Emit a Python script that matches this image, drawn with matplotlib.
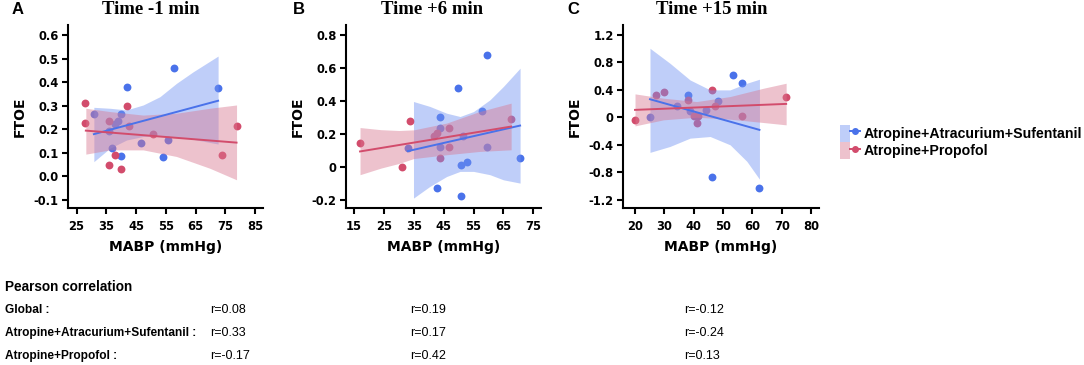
import numpy as np
import matplotlib
matplotlib.use("Agg")
import matplotlib.pyplot as plt
from matplotlib.patches import Patch
from matplotlib.lines import Line2D
from matplotlib.legend_handler import HandlerTuple

plt.rcParams['font.family'] = ['DejaVu Sans']

# colours
BLUE = '#4a72ea'
RED = '#d24c6c'
BLUE_BAND = '#7394f2'
RED_BAND = '#d97891'

group_names = ['Atropine+Atracurium+Sufentanil', 'Atropine+Propofol']
panel_letters = ['A', 'B', 'C']
panel_titles = ['Time -1 min', 'Time +6 min', 'Time +15 min']

# ---- panel A (Time -1 min) ----
a_blue_x = [30.8, 36.0, 37.9, 38.9, 39.9, 41.8, 36.8, 39.9, 46.7, 53.9, 55.8, 57.8, 72.6]
a_blue_y = [0.265, 0.194, 0.222, 0.234, 0.265, 0.38, 0.122, 0.084, 0.14, 0.081, 0.152, 0.459, 0.374]
a_red_x = [27.8, 27.8, 36.0, 41.8, 42.7, 37.9, 36.0, 39.9, 50.8, 73.8, 78.8]
a_red_y = [0.31, 0.225, 0.236, 0.30, 0.214, 0.091, 0.048, 0.03, 0.18, 0.091, 0.214]
a_blue_fit_x = [30.8, 72.6]
a_blue_fit_y = [0.179, 0.321]
a_red_fit_x = [28.1, 78.8]
a_red_fit_y = [0.194, 0.143]
a_blue_ci_x = [30.8, 36.2, 41.8, 47.4, 53.0, 58.6, 64.2, 72.6]
a_blue_ci_hi = [0.293, 0.289, 0.282, 0.303, 0.338, 0.395, 0.444, 0.511]
a_blue_ci_lo = [0.062, 0.119, 0.154, 0.169, 0.171, 0.166, 0.157, 0.137]
a_red_ci_x = [28.1, 36.2, 47.4, 58.6, 69.8, 78.8]
a_red_ci_hi = [0.289, 0.275, 0.26, 0.268, 0.289, 0.303]
a_red_ci_lo = [0.094, 0.112, 0.112, 0.084, 0.034, -0.015]

# ---- panel B (Time +6 min) ----
b_blue_x = [32.9, 43.8, 43.8, 43.8, 49.9, 50.7, 52.7, 42.7, 50.7, 57.7, 59.4, 59.6, 70.6, 51.6]
b_blue_y = [0.115, 0.30, 0.234, 0.123, 0.477, 0.008, 0.028, -0.129, -0.18, 0.341, 0.68, 0.119, 0.053, 0.184]
b_red_x = [17.0, 31.0, 33.8, 41.9, 42.7, 46.8, 46.8, 43.8, 67.6]
b_red_y = [0.143, 0.0, 0.275, 0.184, 0.204, 0.238, 0.123, 0.053, 0.289]
b_blue_fit_x = [33.0, 70.6]
b_blue_fit_y = [0.095, 0.25]
b_red_fit_x = [17.0, 67.6]
b_red_fit_y = [0.093, 0.244]
b_blue_ci_x = [34.9, 40.4, 46.0, 50.5, 55.0, 60.5, 65.0, 70.6]
b_blue_ci_hi = [0.396, 0.366, 0.325, 0.305, 0.335, 0.406, 0.487, 0.598]
b_blue_ci_lo = [-0.19, -0.119, -0.059, -0.028, -0.028, -0.048, -0.079, -0.099]
b_red_ci_x = [17.0, 24.0, 30.0, 35.0, 46.0, 57.0, 67.6]
b_red_ci_hi = [0.238, 0.225, 0.22, 0.224, 0.265, 0.335, 0.386]
b_red_ci_lo = [-0.048, -0.008, 0.02, 0.05, 0.073, 0.093, 0.103]

# ---- panel C (Time +15 min) ----
c_blue_x = [25.1, 34.2, 38.1, 38.75, 44.2, 46.1, 48.2, 53.3, 56.4, 62.4]
c_blue_y = [0.012, 0.167, 0.327, 0.094, 0.1, -0.87, 0.245, 0.618, 0.497, -1.03]
c_red_x = [20.0, 27.0, 30.0, 38.1, 40.1, 41.4, 41.25, 46.1, 47.3, 56.4, 71.5]
c_red_y = [-0.036, 0.327, 0.376, 0.255, 0.022, 0.022, -0.085, 0.4, 0.167, 0.027, 0.293]
c_blue_fit_x = [25.1, 62.4]
c_blue_fit_y = [0.264, -0.182]
c_red_fit_x = [20.0, 71.5]
c_red_fit_y = [0.109, 0.196]
c_blue_ci_x = [25.1, 31.9, 38.75, 45.6, 52.4, 58.1, 62.4]
c_blue_ci_hi = [1.006, 0.788, 0.545, 0.40, 0.40, 0.497, 0.555]
c_blue_ci_lo = [-0.51, -0.424, -0.303, -0.279, -0.40, -0.64, -0.90]
c_red_ci_x = [20.0, 29.7, 41.0, 52.4, 63.75, 71.5]
c_red_ci_hi = [0.342, 0.279, 0.23, 0.303, 0.424, 0.497]
c_red_ci_lo = [-0.124, -0.036, 0.002, -0.027, -0.075, -0.109]

# axis ticks
a_xticks = [25, 35, 45, 55, 65, 75, 85]
a_yticks = [-0.1, 0.0, 0.1, 0.2, 0.3, 0.4, 0.5, 0.6]
a_ylabels = ['-0.1', '0.0', '0.1', '0.2', '0.3', '0.4', '0.5', '0.6']
b_xticks = [15, 25, 35, 45, 55, 65, 75]
b_yticks = [-0.2, 0.0, 0.2, 0.4, 0.6, 0.8]
b_ylabels = ['-0.2', '0', '0.2', '0.4', '0.6', '0.8']
c_xticks = [20, 30, 40, 50, 60, 70, 80]
c_yticks = [-1.2, -0.8, -0.4, 0.0, 0.4, 0.8, 1.2]
c_ylabels = ['-1.2', '-0.8', '-0.4', '0', '0.4', '0.8', '1.2']

# pearson table
row_labels = ['Global :', 'Atropine+Atracurium+Sufentanil :', 'Atropine+Propofol :']
r_values = [['r=0.08', 'r=0.19', 'r=-0.12'],
            ['r=0.33', 'r=0.17', 'r=-0.24'],
            ['r=-0.17', 'r=0.42', 'r=0.13']]

panels = [
    dict(bx=a_blue_x, by=a_blue_y, rx=a_red_x, ry=a_red_y,
         bfx=a_blue_fit_x, bfy=a_blue_fit_y, rfx=a_red_fit_x, rfy=a_red_fit_y,
         bcx=a_blue_ci_x, bch=a_blue_ci_hi, bcl=a_blue_ci_lo,
         rcx=a_red_ci_x, rch=a_red_ci_hi, rcl=a_red_ci_lo,
         xt=a_xticks, yt=a_yticks, yl=a_ylabels, xlim=(22, 87.7), ylim=(-0.135, 0.643)),
    dict(bx=b_blue_x, by=b_blue_y, rx=b_red_x, ry=b_red_y,
         bfx=b_blue_fit_x, bfy=b_blue_fit_y, rfx=b_red_fit_x, rfy=b_red_fit_y,
         bcx=b_blue_ci_x, bch=b_blue_ci_hi, bcl=b_blue_ci_lo,
         rcx=b_red_ci_x, rch=b_red_ci_hi, rcl=b_red_ci_lo,
         xt=b_xticks, yt=b_yticks, yl=b_ylabels, xlim=(12.2, 77.5), ylim=(-0.25, 0.86)),
    dict(bx=c_blue_x, by=c_blue_y, rx=c_red_x, ry=c_red_y,
         bfx=c_blue_fit_x, bfy=c_blue_fit_y, rfx=c_red_fit_x, rfy=c_red_fit_y,
         bcx=c_blue_ci_x, bch=c_blue_ci_hi, bcl=c_blue_ci_lo,
         rcx=c_red_ci_x, rch=c_red_ci_hi, rcl=c_red_ci_lo,
         xt=c_xticks, yt=c_yticks, yl=c_ylabels, xlim=(15.8, 82.8), ylim=(-1.32, 1.345)),
]

W, H = 1084, 365
fig = plt.figure(figsize=(W / 100, H / 100), dpi=100)

# axes boxes in pixels: left, right, top, bottom
boxes = [(67.7, 263, 25, 208), (345.7, 540.7, 25, 208), (622.7, 819.3, 25, 208)]
title_cx = [151, 432, 712]
letter_x = [12, 293, 567]

for i, p in enumerate(panels):
    l, r, t, b = boxes[i]
    ax = fig.add_axes([l / W, (H - b) / H, (r - l) / W, (b - t) / H])
    ax.scatter(p['bx'], p['by'], s=32, color=BLUE, zorder=1, linewidths=0)
    ax.scatter(p['rx'], p['ry'], s=32, color=RED, zorder=1, linewidths=0)
    ax.fill_between(p['bcx'], p['bcl'], p['bch'], color=BLUE_BAND, alpha=0.45, lw=0, zorder=2)
    ax.fill_between(p['rcx'], p['rcl'], p['rch'], color=RED_BAND, alpha=0.45, lw=0, zorder=2)
    ax.plot(p['bfx'], p['bfy'], color=BLUE, lw=1.4, zorder=3)
    ax.plot(p['rfx'], p['rfy'], color=RED, lw=1.4, zorder=3)
    ax.set_xlim(*p['xlim'])
    ax.set_ylim(*p['ylim'])
    ax.set_xticks(p['xt'])
    ax.set_yticks(p['yt'])
    ax.set_yticklabels(p['yl'])
    for s in ['top', 'right']:
        ax.spines[s].set_visible(False)
    for s in ['left', 'bottom']:
        ax.spines[s].set_linewidth(1.5)
    ax.tick_params(width=1.5, length=4, labelsize=8.3)
    ax.tick_params(axis='x', pad=4.5)
    ax.tick_params(axis='y', pad=2.5)
    for lab in ax.get_xticklabels() + ax.get_yticklabels():
        lab.set_fontweight('bold')
    ax.set_xlabel('MABP (mmHg)', fontsize=10, fontweight='bold', labelpad=5)
    ax.set_ylabel('FTOE', fontsize=10, fontweight='bold', labelpad=5)
    fig.text(title_cx[i] / W, 1 - 10 / H, panel_titles[i], ha='center', va='center',
             fontsize=13.5, fontweight='bold', family='Liberation Serif')
    fig.text(letter_x[i] / W, 1 - 10 / H, panel_letters[i], ha='left', va='center',
             fontsize=12, fontweight='bold', family='Liberation Sans')

# legend
handles = [
    (Patch(facecolor=BLUE_BAND, alpha=0.45, lw=0), Line2D([], [], color=BLUE, marker='o', ms=4, lw=1.4)),
    (Patch(facecolor=RED_BAND, alpha=0.45, lw=0), Line2D([], [], color=RED, marker='o', ms=4, lw=1.4)),
]
leg = fig.legend(handles, group_names, loc='center left', bbox_to_anchor=(840 / W, 1 - 142 / H),
                 frameon=False, handler_map={tuple: HandlerTuple(ndivide=None)},
                 prop={'weight': 'bold', 'size': 10.2, 'family': 'Liberation Sans'},
                 handlelength=1.4, handleheight=1.5,
                 labelspacing=0.0, handletextpad=0.25, borderpad=0, borderaxespad=0)

# pearson correlation table
narrow = ['Liberation Sans Narrow', 'Liberation Sans']
fig.text(5 / W, 1 - 287 / H, 'Pearson correlation', ha='left', va='center',
         fontsize=9.8, fontweight='bold', family=narrow)
row_y = [310, 333, 356]
col_x = [210, 410, 684]
for j, lab in enumerate(row_labels):
    fig.text(5 / W, 1 - row_y[j] / H, lab, ha='left', va='center',
             fontsize=8.6, fontweight='bold', family=narrow)
    for k in range(3):
        fig.text(col_x[k] / W, 1 - row_y[j] / H, r_values[j][k], ha='left', va='center',
                 fontsize=9.0, family=narrow)

fig.savefig('out.png', dpi=100)
